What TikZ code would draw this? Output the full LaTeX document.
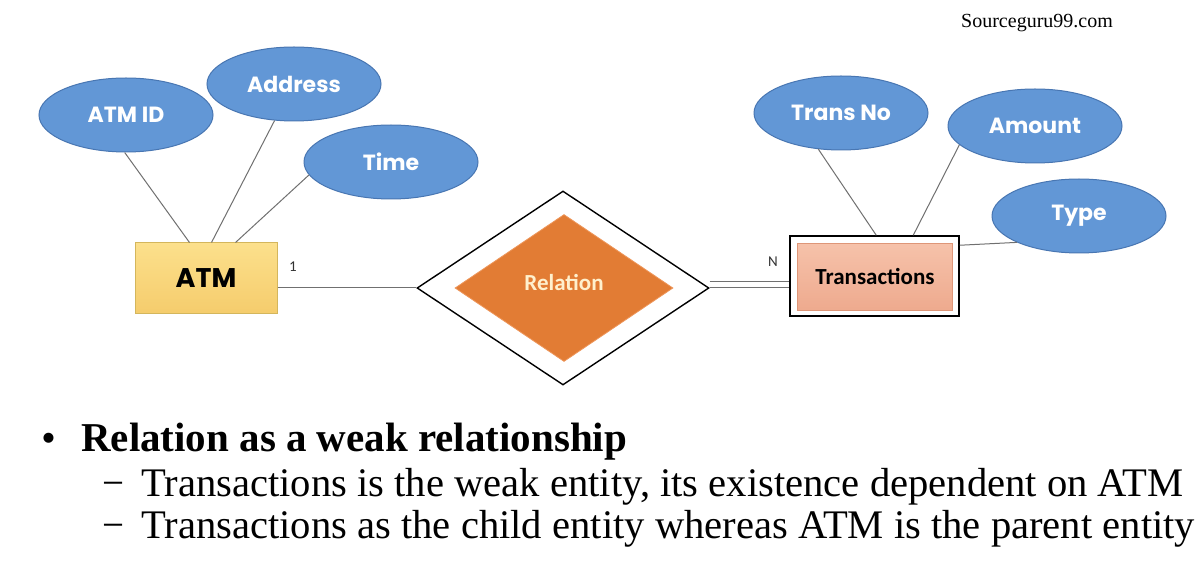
\documentclass[tikz,border=0pt]{standalone}
\usepackage{fontspec}
\usepackage{graphicx}
\setmainfont{Liberation Serif}
\newfontfamily\attrfont{Poppins}
\newfontfamily\calfont{Carlito}
\usetikzlibrary{shapes.geometric}
\definecolor{attrfill}{RGB}{98,151,214}
\definecolor{attrline}{RGB}{72,118,178}
\definecolor{linegray}{RGB}{112,112,112}
\definecolor{orangefill}{RGB}{226,124,52}
\definecolor{orangeline}{RGB}{238,150,90}
\definecolor{cream}{RGB}{255,240,205}
\definecolor{atmtop}{RGB}{252,224,140}
\definecolor{atmbot}{RGB}{245,204,108}
\definecolor{atmline}{RGB}{212,182,92}
\definecolor{trtop}{RGB}{246,194,170}
\definecolor{trbot}{RGB}{238,170,142}
\definecolor{trline}{RGB}{222,150,120}
\definecolor{cardgray}{RGB}{50,50,50}
\begin{document}
\begin{tikzpicture}[x=1pt,y=-1pt,
  attr/.style={ellipse, draw=attrline, fill=attrfill, line width=1pt,
    minimum width=174pt, minimum height=74pt, inner sep=0pt, text=white,
    font=\attrfont\bfseries\fontsize{22}{26}\selectfont},
  conn/.style={draw=linegray, line width=1pt},
  card/.style={inner sep=0pt, text=cardgray, font=\calfont\fontsize{15}{18}\selectfont},
  txt/.style={anchor=base west, inner sep=0pt}]
\fill[white] (0,0) rectangle (1202,585);
\useasboundingbox (0,0) rectangle (1202,585);

% ATM side
\node[attr] (atmid) at (126,115) {ATM ID};
\node[attr] (address) at (294,84) {Address};
\node[attr] (time) at (391,162) {Time};
\node[draw=atmline, line width=1pt, top color=atmtop, bottom color=atmbot,
  minimum width=142pt, minimum height=71pt, inner sep=0pt,
  font=\attrfont\bfseries\fontsize{27}{30}\selectfont] (atm) at (206,278.5) {ATM};

\draw[conn] (atmid.-92) -- ([xshift=55pt]atm.north west);
\draw[conn] (address.-118) -- ([xshift=77pt]atm.north west);
\draw[conn] (time.189) -- ([xshift=101pt]atm.north west);

% relationship
\node[diamond, draw=black, line width=1.4pt, fill=white,
  minimum width=292pt, minimum height=194pt, inner sep=0pt] (rel) at (563,288) {};
\node[diamond, draw=orangeline, fill=orangefill, line width=0.8pt,
  minimum width=218pt, minimum height=147pt, inner sep=0pt, text=cream,
  font=\calfont\bfseries\fontsize{23}{26}\selectfont] (relin) at (564,288) {\raisebox{11pt}{Relation}};

\draw[conn] (atm.east |- rel.west) -- (rel.west);
\node[card] (one) at (293,267) {1};

% Transactions side
\node[draw=black, line width=1.5pt, fill=white, minimum width=169pt, minimum height=80pt,
  inner sep=0pt] (trans) at (874.5,276) {};
\node[draw=trline, line width=0.8pt, top color=trtop, bottom color=trbot,
  minimum width=155pt, minimum height=67pt, inner sep=0pt,
  font=\calfont\bfseries\fontsize{23}{26}\selectfont] (transin) at (875,277) {\raisebox{2pt}{Transactions}};

\draw[draw=linegray, line width=1pt, double=white, double distance=5pt]
  ([yshift=3.5pt]rel.east) -- ([yshift=3.5pt]rel.east -| trans.west);
\node[card] (n) at (773,262) {N};

\node[attr] (transno) at (841,113) {Trans No};
\node[attr] (amount) at (1035,126) {Amount};
\node[attr] (type) at (1079,216) {Type};

\draw[conn] (transno.-122) -- ([xshift=87pt]trans.north west);
\draw[conn] (amount.194) -- ([xshift=124pt]trans.north west);
\draw[conn] (type.203) -- ([yshift=-10pt]trans.north east);

% watermark
\node[txt, font=\fontsize{20}{24}\selectfont] (wm) at (961,28) {Sourceguru99.com};

% bullet text
\node[txt, font=\bfseries\fontsize{37}{44}\selectfont] (bul) at (42,450) {\textbullet};
\node[txt, font=\bfseries\fontsize{41}{46}\selectfont] (l1) at (81,451)
  {Relation as a weak relationship};
\node[txt, font=\fontsize{40}{46}\selectfont] (d2) at (102,496) {\resizebox{22pt}{\height}{\char"2212}};
\node[txt, font=\fontsize{40.6}{46}\selectfont] (l2) at (141,496)
  {Transactions is the weak entity, its existence dependent on ATM};
\node[txt, font=\fontsize{40}{46}\selectfont] (d3) at (102,538) {\resizebox{22pt}{\height}{\char"2212}};
\node[txt, font=\fontsize{40.6}{46}\selectfont] (l3) at (141,538)
  {Transactions as the child entity whereas ATM is the parent entity};
\end{tikzpicture}
\end{document}
